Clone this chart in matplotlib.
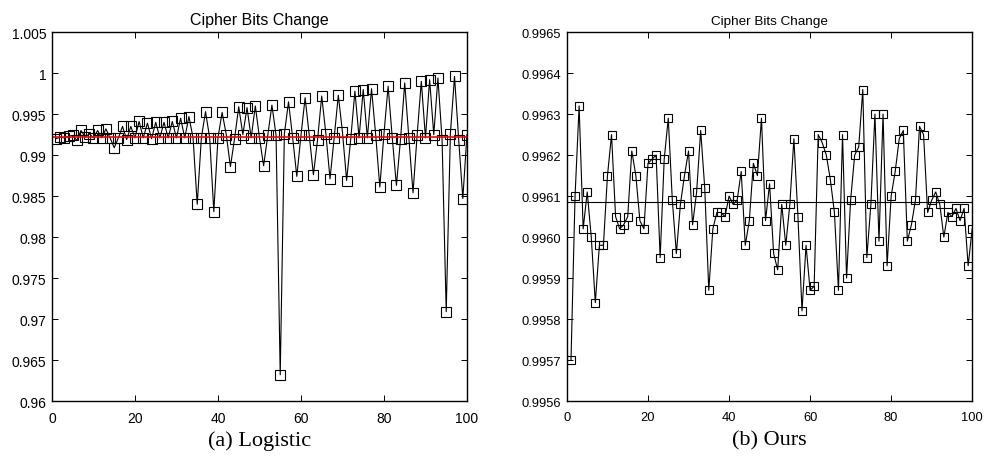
import numpy as np
import matplotlib.pyplot as plt

plt.rcParams['font.family'] = ['Liberation Sans', 'DejaVu Sans']

x = np.arange(1, 101)

# cipher bit change rate per test, logistic map
logistic = [
    0.9920, 0.9922, 0.9921, 0.9923, 0.9924, 0.9918, 0.9930, 0.9922, 0.9926, 0.9921,
    0.9930, 0.9921, 0.9932, 0.9921, 0.9909, 0.9921, 0.9935, 0.9919, 0.9935, 0.9921,
    0.9941, 0.9921, 0.9939, 0.9920, 0.9940, 0.9921, 0.9940, 0.9921, 0.9941, 0.9921,
    0.9945, 0.9921, 0.9947, 0.9921, 0.9840, 0.9921, 0.9953, 0.9921, 0.9831, 0.9921,
    0.9952, 0.9925, 0.9886, 0.9920, 0.9959, 0.9925, 0.9958, 0.9921, 0.9960, 0.9921,
    0.9887, 0.9924, 0.9961, 0.9924, 0.9632, 0.9926, 0.9965, 0.9921, 0.9874, 0.9924,
    0.9970, 0.9924, 0.9876, 0.9919, 0.9972, 0.9926, 0.9871, 0.9921, 0.9973, 0.9928,
    0.9869, 0.9920, 0.9978, 0.9921, 0.9980, 0.9921, 0.9981, 0.9925, 0.9861, 0.9926,
    0.9984, 0.9921, 0.9863, 0.9920, 0.9988, 0.9921, 0.9854, 0.9925, 0.9990, 0.9921,
    0.9992, 0.9925, 0.9994, 0.9919, 0.9709, 0.9926, 0.9996, 0.9919, 0.9847, 0.9925,
]
logistic_ref = 0.99216

# same test, proposed map
ours = [
    0.99570, 0.99610, 0.99632, 0.99602, 0.99611, 0.99600, 0.99584, 0.99598, 0.99598, 0.99615,
    0.99625, 0.99605, 0.99602, 0.99603, 0.99605, 0.99621, 0.99615, 0.99604, 0.99602, 0.99618,
    0.99619, 0.99620, 0.99595, 0.99619, 0.99629, 0.99609, 0.99596, 0.99608, 0.99615, 0.99621,
    0.99603, 0.99611, 0.99626, 0.99612, 0.99587, 0.99602, 0.99606, 0.99606, 0.99605, 0.99610,
    0.99608, 0.99609, 0.99616, 0.99598, 0.99604, 0.99618, 0.99615, 0.99629, 0.99604, 0.99613,
    0.99596, 0.99592, 0.99608, 0.99598, 0.99608, 0.99624, 0.99605, 0.99582, 0.99598, 0.99587,
    0.99588, 0.99625, 0.99623, 0.99620, 0.99614, 0.99606, 0.99587, 0.99625, 0.99590, 0.99609,
    0.99620, 0.99622, 0.99636, 0.99595, 0.99608, 0.99630, 0.99599, 0.99630, 0.99593, 0.99610,
    0.99616, 0.99624, 0.99626, 0.99599, 0.99603, 0.99609, 0.99627, 0.99625, 0.99606, 0.99609,
    0.99611, 0.99608, 0.99600, 0.99606, 0.99605, 0.99607, 0.99604, 0.99607, 0.99593, 0.99602,
]
ours_ref = 0.996085

left_yticks = [0.96, 0.965, 0.97, 0.975, 0.98, 0.985, 0.99, 0.995, 1.0, 1.005]
left_ylabels = ['0.96', '0.965', '0.97', '0.975', '0.98', '0.985', '0.99', '0.995', '1', '1.005']
right_yticks = [0.9956, 0.9957, 0.9958, 0.9959, 0.9960, 0.9961, 0.9962, 0.9963, 0.9964, 0.9965]
right_ylabels = ['%.4f' % v for v in right_yticks]
xticks = [0, 20, 40, 60, 80, 100]

fig = plt.figure(figsize=(9.86, 4.6), dpi=100)
ax1 = fig.add_axes([0.0527, 0.126, 0.4209, 0.802])
ax2 = fig.add_axes([0.575, 0.126, 0.411, 0.802])


def style(ax, yticks, ylabels, caption, fs, title_fs):
    ax.set_xlim(0, 100)
    ax.set_xticks(xticks)
    ax.set_yticks(yticks)
    ax.set_yticklabels(ylabels)
    ax.set_ylim(yticks[0], yticks[-1])
    ax.tick_params(direction='in', top=True, right=True, labelsize=fs, length=4, width=0.7)
    ax.tick_params(axis='y', pad=4)
    ax.tick_params(axis='x', pad=7)
    for s in ax.spines.values():
        s.set_linewidth(1.0)
    ax.set_title('Cipher Bits Change', fontsize=title_fs, pad=5.5)
    ax.text(0.5, -0.08, caption, transform=ax.transAxes, ha='center', va='top',
            fontsize=16, family=['Liberation Serif', 'DejaVu Serif'])


ax1.plot(x, logistic, 'k-', lw=0.8, marker='s', ms=7, mfc='none', mec='k', mew=0.8)
ax1.axhline(logistic_ref, color='red', lw=1.2)
style(ax1, left_yticks, left_ylabels, '(a) Logistic', 10, 11.5)

ax2.plot(x, ours, 'k-', lw=0.8, marker='s', ms=5.5, mfc='none', mec='k', mew=0.8)
ax2.axhline(ours_ref, color='black', lw=0.8)
style(ax2, right_yticks, right_ylabels, '(b) Ours', 9.3, 9.7)

fig.savefig('out.png', dpi=100)
